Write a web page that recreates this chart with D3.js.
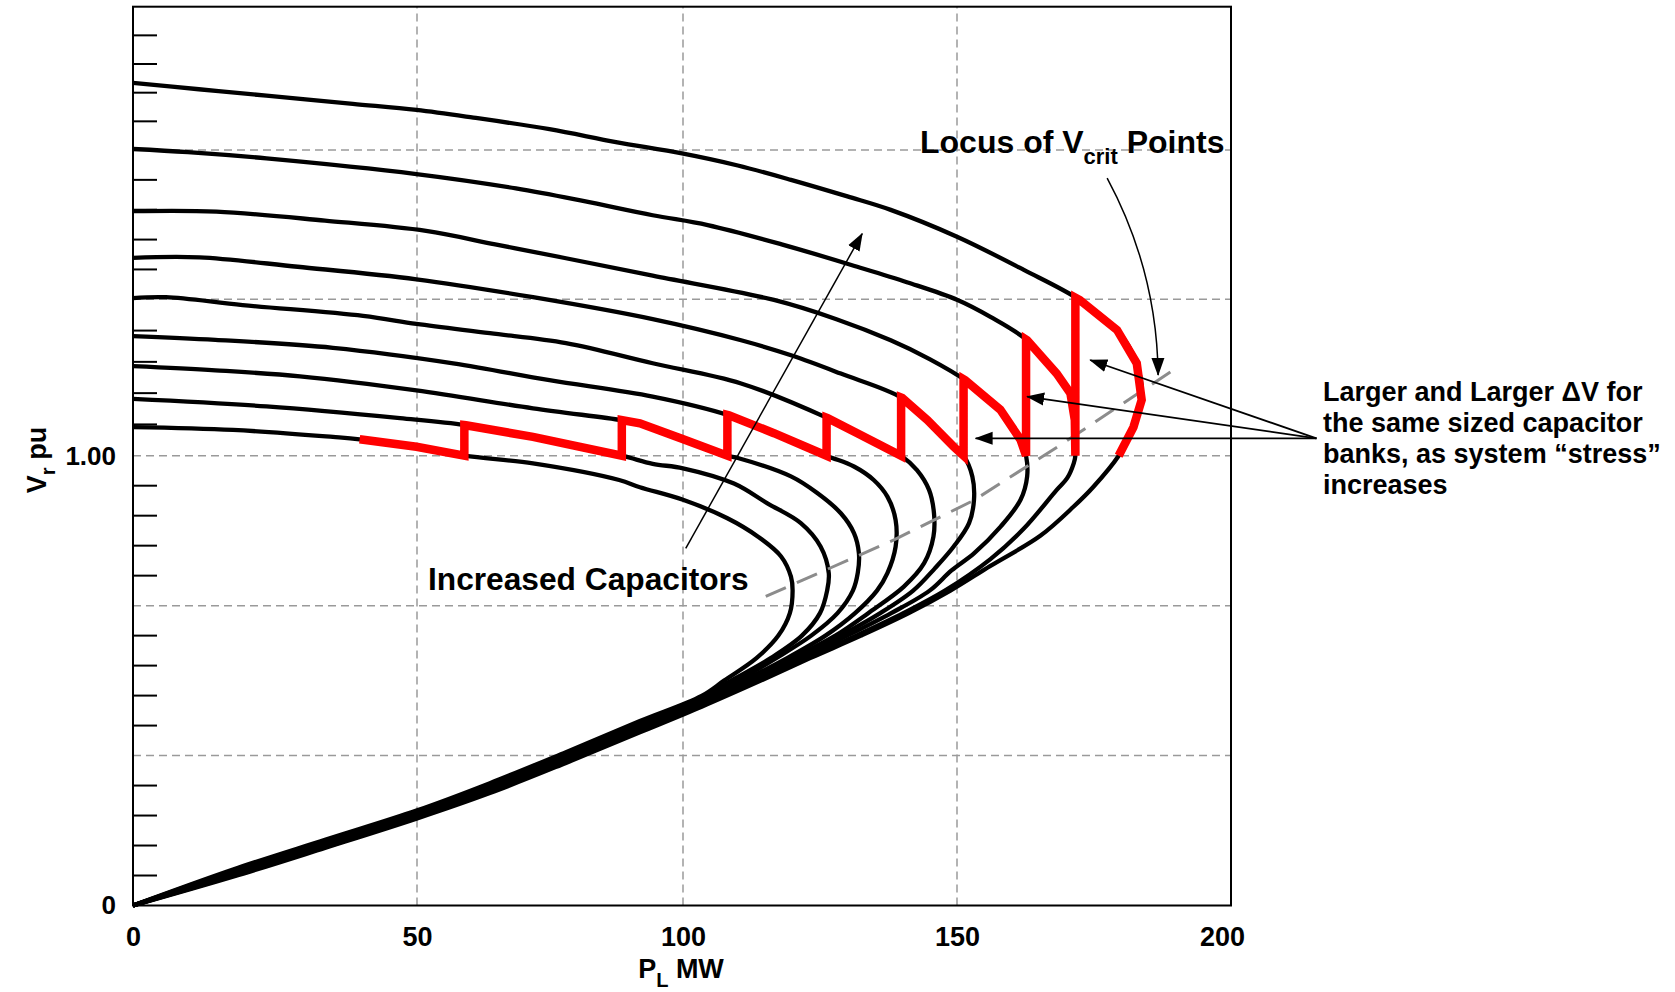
<!DOCTYPE html>
<html>
<head>
<meta charset="utf-8">
<script src="https://cdn.jsdelivr.net/npm/d3@7"></script>
<style>
  body { margin: 0; background: #fff; }
  svg { display: block; }
  text { font-family: "Liberation Sans", Arial, sans-serif; font-weight: bold; fill: #000; }
</style>
</head>
<body>
<div id="chart"></div>
<script>
// P-V curves, [P_L MW, V_r pu], traced from the upper branch over the nose down to the origin.
// c1 = most capacitors (outer curve), c9 = fewest (inner curve)
const c1 = [[0,1.823],[11.6,1.808],[23.5,1.793],[38.7,1.774],[49.9,1.760],[60.6,1.742],[74.9,1.715],[87.4,1.685],[99.8,1.659],[110,1.632],[119.7,1.600],[130,1.563],[137.9,1.533],[150,1.473],[162.2,1.399],[172.4,1.332],[179.2,1.268],[182.8,1.197],[183.7,1.119],[182.2,1.061],[179.5,1.0],[174.9,0.931],[171.3,0.887],[165.2,0.822],[156.1,0.755],[148.8,0.700],[141.2,0.650],[132.5,0.600],[123.2,0.550],[114.2,0.500],[103.4,0.442],[91.9,0.385],[78.0,0.317],[63.7,0.250],[49.9,0.193],[33.8,0.128],[17.6,0.064],[0,0]];
const c2 = [[0,1.669],[9.67,1.662],[23.5,1.648],[49.9,1.613],[68.6,1.581],[81.2,1.553],[94.3,1.521],[104.5,1.499],[118,1.456],[131.8,1.406],[141,1.371],[150.1,1.332],[156.1,1.296],[162.8,1.246],[168.2,1.175],[170.7,1.133],[171.5,1.076],[171.6,1.0],[171.3,0.983],[170.1,0.950],[168.2,0.924],[162.2,0.838],[156.1,0.770],[147.8,0.700],[140.2,0.650],[131.6,0.600],[122.5,0.550],[113.6,0.500],[103.4,0.445],[91.9,0.388],[78.0,0.320],[63.7,0.253],[49.9,0.195],[33.8,0.130],[17.6,0.066],[0,0]];
const c3 = [[0,1.530],[14.7,1.529],[33.8,1.509],[51.7,1.486],[64.7,1.456],[78.0,1.425],[94.3,1.386],[116.6,1.332],[128,1.291],[137.9,1.246],[145,1.206],[151.5,1.161],[157.9,1.098],[161.6,1.034],[162.6,1.0],[162.8,0.954],[161.6,0.902],[158,0.843],[153.1,0.783],[149,0.745],[145,0.700],[138,0.650],[130,0.600],[121.5,0.550],[113,0.500],[103.4,0.448],[91.9,0.391],[78.0,0.323],[63.7,0.256],[49.9,0.197],[33.8,0.132],[17.6,0.068],[0,0]];
const c4 = [[0,1.426],[11.7,1.427],[29.0,1.406],[49.9,1.378],[71.8,1.338],[94.3,1.291],[110.6,1.246],[120,1.213],[128.8,1.175],[140,1.123],[144.6,1.076],[149.4,1.019],[151.2,1.0],[152.8,0.954],[153.1,0.902],[152.2,0.850],[149.4,0.798],[146,0.750],[142,0.700],[136,0.650],[128.8,0.600],[120.8,0.550],[112.4,0.500],[103.4,0.451],[91.9,0.394],[78.0,0.326],[63.7,0.258],[49.9,0.199],[33.8,0.135],[17.6,0.070],[0,0]];
const c5 = [[0,1.336],[5.8,1.338],[19.3,1.321],[40.5,1.298],[49.9,1.281],[63.7,1.261],[78.0,1.240],[94.3,1.197],[110.6,1.154],[126.4,1.080],[131.8,1.048],[139.8,1.0],[142.7,0.968],[144.9,0.924],[145.8,0.872],[145.7,0.820],[144,0.761],[140.3,0.709],[133.8,0.650],[127.8,0.600],[120,0.550],[111.8,0.500],[103.4,0.454],[91.9,0.397],[78.0,0.329],[63.7,0.261],[49.9,0.202],[33.8,0.137],[17.6,0.072],[0,0]];
const c6 = [[0,1.255],[14.5,1.247],[35.2,1.230],[56.8,1.197],[74.9,1.161],[94.3,1.126],[108.4,1.086],[116.6,1.048],[126.2,1.0],[131.2,0.976],[134.8,0.946],[137.3,0.909],[138.8,0.857],[138.8,0.798],[137.3,0.739],[135.4,0.700],[131.4,0.650],[126,0.600],[119,0.550],[111,0.500],[103.4,0.457],[91.9,0.400],[78.0,0.332],[63.7,0.264],[49.9,0.204],[33.8,0.140],[17.6,0.074],[0,0]];
const c7 = [[0,1.191],[14.5,1.182],[29.4,1.169],[49.9,1.139],[71.8,1.101],[88.4,1.076],[91.9,1.069],[99.8,1.036],[108.1,1.0],[110,0.995],[119.7,0.954],[124.5,0.917],[128.8,0.872],[131.2,0.828],[132.1,0.783],[131.9,0.740],[131,0.700],[128.2,0.650],[123.4,0.600],[117,0.550],[110,0.500],[103.4,0.460],[91.9,0.403],[78.0,0.335],[63.7,0.267],[49.9,0.207],[33.8,0.142],[17.6,0.076],[0,0]];
const c8 = [[0,1.121],[23.5,1.105],[47.0,1.080],[59.2,1.065],[71.8,1.040],[88.5,1.0],[94.3,0.982],[100.0,0.972],[109.3,0.938],[115.4,0.894],[121.5,0.850],[125.1,0.798],[126.6,0.739],[126.3,0.700],[125,0.650],[121.7,0.600],[116,0.550],[108.8,0.500],[103.4,0.463],[91.9,0.406],[78.0,0.338],[63.7,0.269],[49.9,0.209],[33.8,0.144],[17.6,0.078],[0,0]];
const c9 = [[0,1.061],[17.6,1.055],[35.2,1.040],[39.9,1.035],[49.9,1.019],[58.9,1.0],[71.8,0.983],[88.0,0.946],[91.9,0.930],[100.0,0.902],[108.1,0.861],[113.7,0.820],[117.9,0.776],[119.7,0.731],[120,0.700],[119.5,0.650],[117.4,0.600],[113.4,0.550],[107.5,0.500],[103.4,0.466],[91.9,0.410],[78.0,0.341],[63.7,0.272],[49.9,0.211],[33.8,0.146],[17.6,0.080],[0,0]];

// red operating path: starts on c9 at this load, switches a bank at each V = 1.00 crossing
const redStartP = 39.9;
const redOrder = [c9, c8, c7, c6, c5, c4, c3, c2, c1];

// dashed line through the noses (locus of V crit)
const locusLine = [[115.1,0.687],[138.5,0.813],[153.1,0.901],[168.9,1.023],[189.4,1.182]];

// axis ticks
const xTicks = [0, 50, 100, 150, 200];
const xGrid = [50, 100, 150];
const yGrid = [1/3, 2/3, 1, 4/3, 5/3];
const yLabelVals = [0, 1];
const yLabels = ["0", "1.00"];
const yMinor = d3.range(1, 30).filter(k => k % 5 !== 0).map(k => k / 15);

// annotation arrows, in data units
const capArrow = [[100.5, 0.794], [132.7, 1.480]];
const stressFrom = [215.6, 1.037];
const stressTips = [[174.3, 1.204], [162.8, 1.126], [153.4, 1.037]];
const locusArrow = { from: [177.4, 1.604], ctrl: [186.5, 1.397], to: [186.7, 1.172] };

const width = 1675;
const height = 992;

// the printed axes are not quite evenly spaced, so the scales follow the drawn grid
const x = d3.scaleLinear().domain([0, 50, 100, 200]).range([133, 417, 683, 1231]);
const y = d3.scaleLinear().domain([0, 1, 4/3, 5/3, 2]).range([905.5, 455.7, 299.3, 150, 6.7]);

const svg = d3.select("#chart")
  .append("svg")
  .attr("width", width)
  .attr("height", height);

const defs = svg.append("defs");
defs.append("marker")
  .attr("id", "head")
  .attr("markerUnits", "userSpaceOnUse")
  .attr("viewBox", "0 -7 18 14")
  .attr("markerWidth", 18)
  .attr("markerHeight", 14)
  .attr("refX", 17)
  .attr("refY", 0)
  .attr("orient", "auto")
  .append("path")
  .attr("d", "M0,-6.5L18,0L0,6.5Z")
  .attr("fill", "#000");

// grid
const grid = svg.append("g")
  .attr("stroke", "#9a9a9a")
  .attr("stroke-width", 1.5)
  .attr("stroke-dasharray", "8,5");

grid.selectAll(".gx")
  .data(xGrid)
  .join("line")
  .attr("x1", d => x(d)).attr("x2", d => x(d))
  .attr("y1", y(0)).attr("y2", y(2));

grid.selectAll(".gy")
  .data(yGrid)
  .join("line")
  .attr("x1", x(0)).attr("x2", x(200))
  .attr("y1", d => y(d)).attr("y2", d => y(d));

// minor ticks on the left axis, pointing inward
svg.append("g")
  .selectAll("line")
  .data(yMinor)
  .join("line")
  .attr("x1", x(0)).attr("x2", x(0) + 24)
  .attr("y1", d => y(d)).attr("y2", d => y(d))
  .attr("stroke", "#000")
  .attr("stroke-width", 2);

// black P-V curves
const line = d3.line()
  .x(d => x(d[0]))
  .y(d => y(d[1]))
  .curve(d3.curveCatmullRom.alpha(0.5));

svg.append("g")
  .selectAll("path")
  .data([c1, c2, c3, c4, c5, c6, c7, c8, c9])
  .join("path")
  .attr("d", line)
  .attr("fill", "none")
  .attr("stroke", "#000")
  .attr("stroke-width", 4.3)
  .attr("stroke-linejoin", "round");

// locus dashed line
svg.append("path")
  .attr("d", d3.line().x(d => x(d[0])).y(d => y(d[1]))(locusLine))
  .attr("fill", "none")
  .attr("stroke", "#8c8c8c")
  .attr("stroke-width", 3)
  .attr("stroke-dasharray", "22,12");

// red path: follow each curve from the switching load until V drops to 1.00
function cut(curve, p0) {
  let i = 0;
  while (i < curve.length - 2 && curve[i + 1][0] < p0) i++;
  const a = curve[i], b = curve[i + 1];
  const t = (p0 - a[0]) / (b[0] - a[0]);
  const out = [[p0, a[1] + t * (b[1] - a[1])]];
  let j = i + 1;
  while (j < curve.length && curve[j][1] > 1) { out.push(curve[j]); j++; }
  const c = curve[j - 1], d = curve[j];
  const s = (c[1] - 1) / (c[1] - d[1]);
  out.push([c[0] + s * (d[0] - c[0]), 1]);
  return out;
}

let redPts = [];
let pNow = redStartP;
redOrder.forEach(cv => {
  const seg = cut(cv, pNow);
  redPts = redPts.concat(seg);
  pNow = seg[seg.length - 1][0];
});

svg.append("path")
  .attr("d", d3.line().x(d => x(d[0])).y(d => y(d[1]))(redPts))
  .attr("fill", "none")
  .attr("stroke", "#ff0000")
  .attr("stroke-width", 8.5)
  .attr("stroke-linejoin", "miter")
  .attr("stroke-miterlimit", 3);

// frame
svg.append("rect")
  .attr("x", x(0)).attr("y", y(2))
  .attr("width", x(200) - x(0))
  .attr("height", y(0) - y(2))
  .attr("fill", "none")
  .attr("stroke", "#000")
  .attr("stroke-width", 2);

// axes (labels only)
const xAxis = svg.append("g")
  .attr("transform", `translate(0,${y(0)})`)
  .call(d3.axisBottom(x).tickValues(xTicks).tickSize(0).tickPadding(21));
xAxis.select(".domain").remove();
xAxis.selectAll("text")
  .attr("font-size", 27)
  .attr("font-family", "Liberation Sans, Arial, sans-serif")
  .attr("font-weight", "bold");
xAxis.selectAll(".tick").filter(d => d === 200).select("text").attr("dx", -9);

const yAxis = svg.append("g")
  .attr("transform", `translate(${x(0)},0)`)
  .call(d3.axisLeft(y).tickValues(yLabelVals).tickFormat((d, i) => yLabels[i]).tickSize(0).tickPadding(17));
yAxis.select(".domain").remove();
yAxis.selectAll("text")
  .attr("font-size", 26)
  .attr("font-family", "Liberation Sans, Arial, sans-serif")
  .attr("font-weight", "bold");

// axis titles
const xt = svg.append("text")
  .attr("x", x(100) - 2)
  .attr("y", 978)
  .attr("text-anchor", "middle")
  .attr("font-size", 27);
xt.append("tspan").text("P");
xt.append("tspan").attr("dy", 9).attr("font-size", 20).text("L");
xt.append("tspan").attr("dy", -9).text(" MW");

const yt = svg.append("text")
  .attr("transform", "translate(46,460) rotate(-90)")
  .attr("text-anchor", "middle")
  .attr("font-size", 27);
yt.append("tspan").text("V");
yt.append("tspan").attr("dy", 9).attr("font-size", 20).text("r");
yt.append("tspan").attr("dy", -9).text(" pu");

// annotations
const lt = svg.append("text")
  .attr("x", 920)
  .attr("y", 153)
  .attr("font-size", 32);
lt.append("tspan").text("Locus of V");
lt.append("tspan").attr("dy", 11).attr("font-size", 22).text("crit");
lt.append("tspan").attr("dy", -11).text(" Points");

svg.append("text")
  .attr("x", 428)
  .attr("y", 590)
  .attr("font-size", 31.7)
  .text("Increased Capacitors");

const noteLines = [
  "Larger and Larger \u0394V for",
  "the same sized capacitor",
  "banks, as system \u201cstress\u201d",
  "increases"
];
svg.append("text")
  .attr("font-size", 27)
  .selectAll("tspan")
  .data(noteLines)
  .join("tspan")
  .attr("x", 1323)
  .attr("y", (d, i) => 401 + i * 31)
  .text(d => d);

// arrow: increased capacitors
svg.append("line")
  .attr("x1", x(capArrow[0][0])).attr("y1", y(capArrow[0][1]))
  .attr("x2", x(capArrow[1][0])).attr("y2", y(capArrow[1][1]))
  .attr("stroke", "#000")
  .attr("stroke-width", 1.5)
  .attr("marker-end", "url(#head)");

// arrows: larger and larger delta V
svg.append("g")
  .selectAll("line")
  .data(stressTips)
  .join("line")
  .attr("x1", x(stressFrom[0])).attr("y1", y(stressFrom[1]))
  .attr("x2", d => x(d[0])).attr("y2", d => y(d[1]))
  .attr("stroke", "#000")
  .attr("stroke-width", 1.8)
  .attr("marker-end", "url(#head)");

// curved arrow from the locus label down to the dashed line
const lp = d3.path();
lp.moveTo(x(locusArrow.from[0]), y(locusArrow.from[1]));
lp.quadraticCurveTo(x(locusArrow.ctrl[0]), y(locusArrow.ctrl[1]), x(locusArrow.to[0]), y(locusArrow.to[1]));
svg.append("path")
  .attr("d", lp.toString())
  .attr("fill", "none")
  .attr("stroke", "#000")
  .attr("stroke-width", 1.5)
  .attr("marker-end", "url(#head)");
</script>
</body>
</html>
